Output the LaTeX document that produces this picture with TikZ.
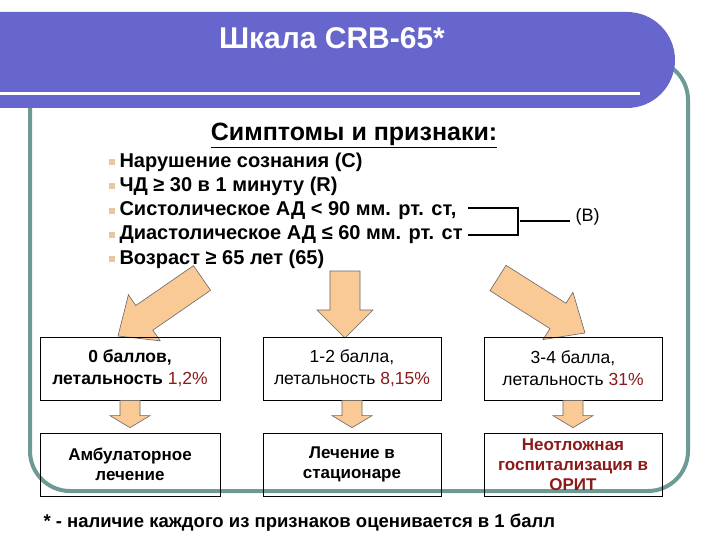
\documentclass[tikz,border=0pt]{standalone}
\usepackage{fontspec}
\setmainfont{Liberation Sans}
\usetikzlibrary{calc}
\definecolor{banner}{HTML}{6666CC}
\definecolor{frame}{HTML}{6E9A96}
\definecolor{arrf}{HTML}{F9C996}
\definecolor{dred}{HTML}{8B1A1A}
\definecolor{bul}{HTML}{E8C8A0}
\newcommand\fatarr[5]{%
 \coordinate (fA) at (#1); \coordinate (fB) at (#2);
 \coordinate (fH) at ($(fB)!#5!(fA)$);
 \filldraw[fill=arrf,draw=gray!80!black,line width=0.6pt]
 ($(fA)!#3!-90:(fB)$) -- ($(fH)!#3!90:(fA)$) -- ($(fH)!#4!90:(fA)$) -- (fB)
 -- ($(fH)!#4!-90:(fA)$) -- ($(fH)!#3!-90:(fA)$) -- ($(fA)!#3!90:(fB)$) -- cycle;}
\begin{document}
\begin{tikzpicture}[x=1pt,y=-1pt,
 box/.style={draw,line width=0.7pt,minimum width=#1,minimum height=63pt,align=center,font=\fontsize{17.5}{22}\selectfont,inner sep=1pt},
 bbox/.style={box=#1,font=\bfseries\fontsize{17}{20}\selectfont},
 bl/.style={anchor=west,font=\bfseries\fontsize{20}{24}\selectfont},
 sq/.style={fill=bul,minimum size=6pt,inner sep=0pt}]
\useasboundingbox (0,0) rectangle (720,540);
\fill[white] (0,0) rectangle (720,540);
% frame
\draw[frame,line width=4pt,rounded corners=40pt] (30,60) rectangle (688,491);
% banner
\fill[banner,rounded corners=48pt] (-60,12) rectangle (675,108);
\fill[banner] (-10,12) rectangle (100,108);
\draw[white,line width=3pt] (0,94) -- (640,94);
\node[text=white,font=\bfseries\fontsize{30}{34}\selectfont] (title) at (332,38) {Шкала CRB-65*};
\node[font=\bfseries\fontsize{25}{28}\selectfont] (head) at (354,135) {\underline{Симптомы и признаки:}};
% big arrows
\fatarr{202,278}{118,336}{15pt}{28pt}{32pt}
\fatarr{345,271}{345,338}{15pt}{28pt}{28pt}
\fatarr{498,278}{585,333}{15pt}{28pt}{32pt}
\foreach \t [count=\i] in {Нарушение сознания (C),ЧД ≥ 30 в 1 минуту (R),{Систолическое АД < 90 мм. рт. ст,},Диастолическое АД ≤ 60 мм. рт. ст,Возраст ≥ 65 лет (65)}{
 \node[sq] (s\i) at (112,162+24.3*\i-24.3) {};
 \node[bl] (b\i) at (116,162+24.3*\i-24.3) {\t};}
\coordinate (br1) at (468,208); \coordinate (br2) at (468,235);
\coordinate (bt1) at (518,208); \coordinate (bt2) at (518,235);
\coordinate (bm) at (520,221); \coordinate (be) at (570,221);
\draw[line width=1.2pt] (br1) -- (bt1) -- (bt2) -- (br2);
\draw[line width=1.2pt] (bm) -- (be);
\node[anchor=west,font=\fontsize{18}{20}\selectfont] (B) at (572,217) {(B)};
% boxes
\node[box=180pt] (r1) at (130,368.5) {\textbf{0 баллов,}\\\textbf{летальность} \textcolor{dred}{1,2\%}};
\node[box=178pt] (r2) at (352,368.5) {1-2 балла,\\летальность \textcolor{dred}{8,15\%}};
\node[box=178pt] (r3) at (573,368.5) {3-4 балла,\\летальность \textcolor{dred}{31\%}};
\node[bbox=180pt] (t1) at (130,464.5) {Амбулаторное\\лечение};
\node[bbox=178pt] (t2) at (352,464.5) {Лечение в\\стационаре};
\node[bbox=178pt,text=dred] (t3) at (573,464.5) {Неотложная\\госпитализация в\\ОРИТ};
\fatarr{r1.south}{$(t1.north)+(0,-5)$}{10pt}{20pt}{12pt}
\fatarr{r2.south}{$(t2.north)+(0,-5)$}{10pt}{20pt}{12pt}
\fatarr{r3.south}{$(t3.north)+(0,-5)$}{10pt}{20pt}{12pt}
\node[anchor=west,font=\bfseries\fontsize{18.5}{20}\selectfont] (fn) at (40,523) {* - наличие каждого из признаков оценивается в 1 балл};
\end{tikzpicture}
\end{document}
